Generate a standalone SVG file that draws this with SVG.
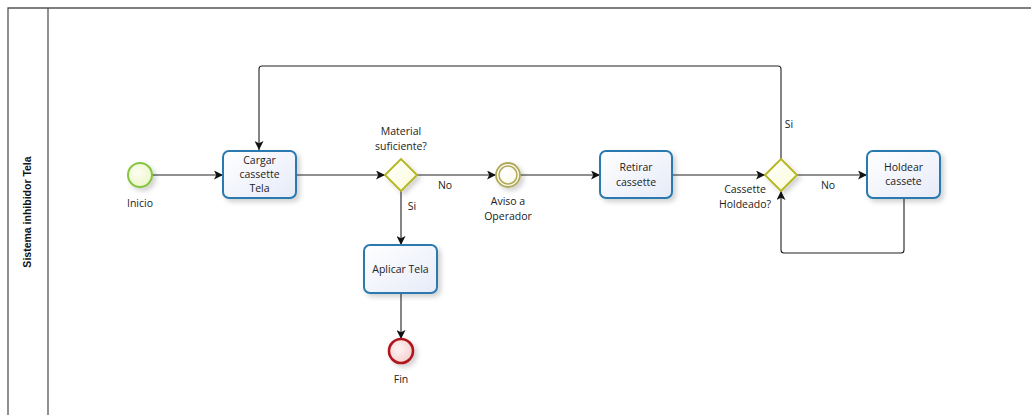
<svg xmlns="http://www.w3.org/2000/svg" width="1031" height="415" viewBox="0 0 1031 415">
  <style>
    text { font-family: "Open Sans", "Noto Sans", "DejaVu Sans", sans-serif; font-size: 10.5px; fill: #222; text-anchor: middle; }
    .lane { fill: none; stroke: #555; stroke-width: 1.3; }
    .task { fill: url(#taskFill); stroke: #2a7ab0; stroke-width: 2; filter: url(#shadow); }
    .gw { fill: url(#gwFill); stroke: #b5b51e; stroke-width: 1.8; filter: url(#shadow); }
    .flow { fill: none; stroke: #222; stroke-width: 1.1; marker-end: url(#arrow); }
    .title { font-family: "Liberation Sans", "Noto Sans", sans-serif; font-weight: bold; font-size: 10.5px; fill: #111; }
  </style>
  <defs>
    <marker id="arrow" viewBox="0 0 10 10" refX="10" refY="5" markerWidth="9" markerHeight="9" markerUnits="userSpaceOnUse" orient="auto">
      <path d="M0,0 L10,5 L0,10 L2.5,5 Z" fill="#111"/>
    </marker>
    <linearGradient id="taskFill" x1="0" y1="0" x2="1" y2="1">
      <stop offset="0" stop-color="#ffffff"/>
      <stop offset="1" stop-color="#e6ebf8"/>
    </linearGradient>
    <linearGradient id="gwFill" x1="0" y1="0" x2="1" y2="1">
      <stop offset="0" stop-color="#ffffff"/>
      <stop offset="1" stop-color="#fbfbd8"/>
    </linearGradient>
    <radialGradient id="startFill" cx="0.4" cy="0.4" r="0.7">
      <stop offset="0" stop-color="#fcfef0"/>
      <stop offset="1" stop-color="#eaf5c8"/>
    </radialGradient>
    <radialGradient id="endFill" cx="0.4" cy="0.4" r="0.7">
      <stop offset="0" stop-color="#fff4f4"/>
      <stop offset="1" stop-color="#f4cccc"/>
    </radialGradient>
    <radialGradient id="midFill" cx="0.4" cy="0.4" r="0.7">
      <stop offset="0" stop-color="#ffffff"/>
      <stop offset="1" stop-color="#f7f5e2"/>
    </radialGradient>
    <filter id="shadow" x="-30%" y="-30%" width="170%" height="170%">
      <feDropShadow dx="3" dy="3" stdDeviation="2.5" flood-color="#000" flood-opacity="0.18"/>
    </filter>
  </defs>

  <!-- pool and lane header -->
  <g id="pool">
    <path class="lane" d="M8,415 V8 H1031"/>
    <path class="lane" d="M48,8 V415"/>
    <text class="title" transform="translate(31,212) rotate(-90)">Sistema inhibidor Tela</text>
  </g>

  <!-- sequence flows -->
  <g id="connectors">
    <path class="flow" d="M152,175 H223"/>
    <path class="flow" d="M296,175 H385"/>
    <path class="flow" d="M417,175 H496"/>
    <path class="flow" d="M401,191 V245"/>
    <path class="flow" d="M401,293 V339"/>
    <path class="flow" d="M520,175 H600"/>
    <path class="flow" d="M672,175 H765"/>
    <path class="flow" d="M797,175 H867"/>
    <path class="flow" d="M781,159 V69 Q781,66 778,66 H262 Q259,66 259,69 V150"/>
    <path class="flow" d="M904,198 V250 Q904,253 901,253 H784 Q781,253 781,250 V191"/>
    <text x="445" y="189">No</text>
    <text x="412" y="210">Si</text>
    <text x="789" y="128">Si</text>
    <text x="828" y="189">No</text>
  </g>

  <g id="inicio">
    <circle cx="140" cy="175" r="12" fill="url(#startFill)" stroke="#86c440" stroke-width="2" filter="url(#shadow)"/>
    <text x="140" y="207">Inicio</text>
  </g>

  <g id="cargar">
    <rect class="task" x="223" y="151" width="73" height="47" rx="6"/>
    <text x="259.500" y="164">Cargar</text>
    <text x="259.500" y="178">cassette</text>
    <text x="259.500" y="192">Tela</text>
  </g>

  <g id="material">
    <path class="gw" d="M385,175 L401,159 L417,175 L401,191 Z"/>
    <text x="401" y="135">Material</text>
    <text x="401" y="150">suficiente?</text>
  </g>

  <g id="aviso">
    <circle cx="508" cy="175" r="12" fill="url(#midFill)" stroke="#b0a95a" stroke-width="1.8" filter="url(#shadow)"/>
    <circle cx="508" cy="175" r="9" fill="none" stroke="#b0a95a" stroke-width="1.5"/>
    <text x="508" y="205">Aviso a</text>
    <text x="508" y="220">Operador</text>
  </g>

  <g id="aplicar">
    <rect class="task" x="364" y="245" width="73" height="48" rx="6"/>
    <text x="400.500" y="273">Aplicar Tela</text>
  </g>

  <g id="fin">
    <circle cx="401" cy="351" r="12" fill="url(#endFill)" stroke="#b0191e" stroke-width="2.6" filter="url(#shadow)"/>
    <text x="401" y="383">Fin</text>
  </g>

  <g id="retirar">
    <rect class="task" x="600" y="151" width="72" height="47" rx="6"/>
    <text x="636" y="171">Retirar</text>
    <text x="636" y="186">cassette</text>
  </g>

  <g id="holdeado">
    <path class="gw" d="M765,175 L781,159 L797,175 L781,191 Z"/>
    <text x="745" y="193">Cassette</text>
    <text x="745" y="208">Holdeado?</text>
  </g>

  <g id="holdear">
    <rect class="task" x="867" y="151" width="73" height="47" rx="6"/>
    <text x="903.500" y="171">Holdear</text>
    <text x="903.500" y="185">cassete</text>
  </g>
</svg>
